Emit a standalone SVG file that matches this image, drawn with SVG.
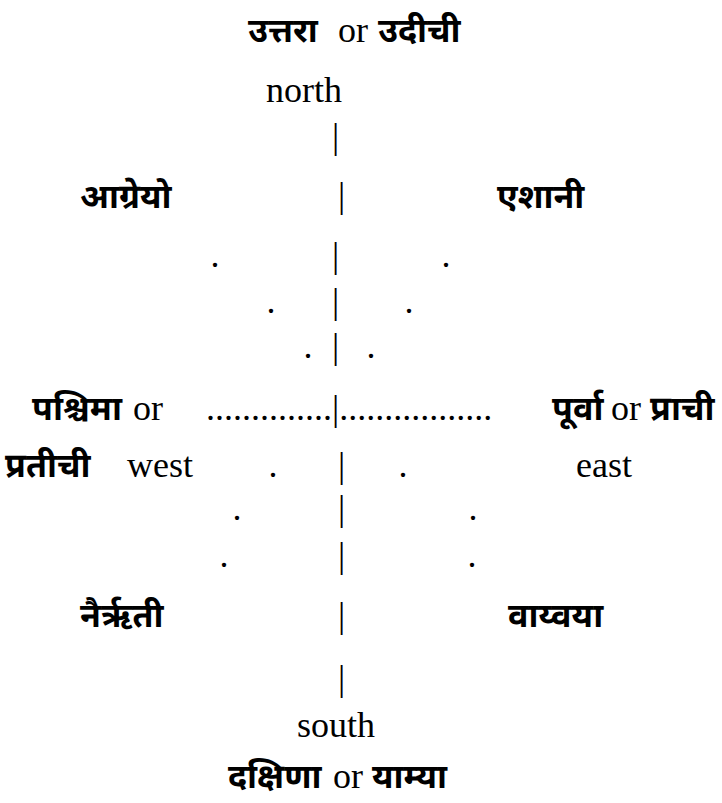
<svg xmlns="http://www.w3.org/2000/svg" width="722" height="803" viewBox="0 0 722 803">
<style>
text{fill:#000}
.l{font-family:"Liberation Serif","Times New Roman",serif;font-size:36px}
.d{font-family:"Noto Sans Devanagari","Noto Serif Devanagari","Lohit Devanagari",Mangal,"Noto Sans",sans-serif;font-size:34px;font-weight:bold}
</style>
<rect width="722" height="803" fill="#fff"/>
<g id="north">
<text class="d" x="248" y="42">उत्तरा</text><text class="l" x="338" y="42">or</text><text class="d" x="378" y="42">उदीची</text>
<text class="l" x="266" y="102">north</text>
</g>
<g id="northeast-label"><text class="d" x="80" y="208">आग्रेयो</text></g>
<g id="northwest-label"><text class="d" x="497" y="208">एशानी</text></g>
<g id="west">
<text class="d" x="32" y="420">पश्चिमा</text><text class="l" x="133" y="420">or</text>
<text class="d" x="5" y="477">प्रतीची</text><text class="l" x="127" y="477">west</text>
</g>
<g id="east">
<text class="d" x="552" y="420">पूर्वा</text><text class="l" x="611" y="420">or</text><text class="d" x="650" y="420">प्राची</text>
<text class="l" x="576" y="477">east</text>
</g>
<g id="southwest-label"><text class="d" x="80" y="627" font-size="36">नैर्ऋती</text></g>
<g id="southeast-label"><text class="d" x="508" y="627">वाय्वया</text></g>
<g id="south">
<text class="l" x="297" y="737">south</text>
<text class="d" x="228" y="788">दक्षिणा</text><text class="l" x="333" y="788">or</text><text class="d" x="372" y="788">याम्या</text>
</g>
<g id="connectors" class="l">
<text x="332" y="148">|</text>
<text x="338" y="207">|</text>
<text x="210.5" y="267">.</text><text x="332" y="267">|</text><text x="441.5" y="267">.</text>
<text x="266.5" y="313">.</text><text x="332" y="313">|</text><text x="404.5" y="313">.</text>
<text x="303.5" y="358">.</text><text x="332" y="358">|</text><text x="366.5" y="358">.</text>
<text x="206" y="420">..............|.................</text>
<text x="268.5" y="477">.</text><text x="338" y="477">|</text><text x="398.5" y="477">.</text>
<text x="232.5" y="520">.</text><text x="338" y="520">|</text><text x="468.5" y="520">.</text>
<text x="219.5" y="567">.</text><text x="338" y="567">|</text><text x="467.5" y="567">.</text>
<text x="338" y="627">|</text>
<text x="338" y="690">|</text>
</g>
</svg>
